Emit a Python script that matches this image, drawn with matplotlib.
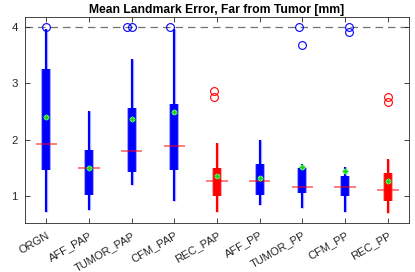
"""Compact boxplot: mean landmark error far from tumor."""
import numpy as np
import matplotlib
matplotlib.use('Agg')
import matplotlib.pyplot as plt

plt.rcParams['font.family'] = ['Liberation Sans', 'DejaVu Sans']

labels = ['ORGN', 'AFF_PAP', 'TUMOR_PAP', 'CFM_PAP', 'REC_PAP',
          'AFF_PP', 'TUMOR_PP', 'CFM_PP', 'REC_PP']
whisk_lo = [0.72, 0.76, 1.20, 0.92, 0.72, 0.84, 0.78, 0.72, 0.69]
q1       = [1.46, 1.01, 1.42, 1.46, 1.00, 1.01, 1.06, 1.00, 0.92]
median   = [1.93, 1.50, 1.80, 1.89, 1.27, 1.26, 1.16, 1.16, 1.11]
q3       = [3.26, 1.82, 2.56, 2.63, 1.50, 1.56, 1.50, 1.36, 1.41]
whisk_hi = [3.97, 2.51, 3.43, 3.97, 1.94, 2.00, 1.57, 1.52, 1.65]
means    = [2.40, 1.50, 2.37, 2.49, 1.35, 1.32, 1.51, 1.45, 1.26]
groups   = ['b', 'b', 'b', 'b', 'r', 'b', 'b', 'b', 'r']
# outliers: (box index, value, horizontal jitter)
out_idx  = [0, 2, 2, 3, 4, 4, 6, 6, 7, 7, 8, 8]
out_val  = [4.0, 4.0, 4.0, 4.0, 2.87, 2.76, 4.0, 3.68, 4.0, 3.92, 2.75, 2.67]
out_jit  = [0.0, -0.12, 0.0, -0.1, -0.06, -0.06, -0.09, 0.0, 0.1, 0.1, 0.0, 0.0]
ref_line = 4.0

colors = {'b': '#0000ff', 'r': '#ff0000'}
x = np.arange(1, len(labels) + 1)
cols = [colors[g] for g in groups]

fig = plt.figure(figsize=(4.15, 2.72), dpi=100)
ax = fig.add_axes([0.060, 0.180, 0.926, 0.758])

ax.axhline(ref_line, color='0.45', ls=(0, (6, 4)), lw=0.9, zorder=1)

ax.vlines(x, whisk_lo, whisk_hi, colors=cols, lw=1.5, zorder=2)
ax.vlines(x, whisk_lo, whisk_hi, colors=cols, lw=2.4, alpha=0.3, zorder=2)
ax.vlines(x, q1, q3, colors=cols, lw=7.2, alpha=0.35, zorder=3)
ax.vlines(x, q1, q3, colors=cols, lw=5.6, zorder=3)
ax.hlines(median, x - 0.25, x + 0.25, colors='#ff0000', lw=1.3, alpha=0.55, zorder=4)
ax.plot(x, means, ls='none', marker='o', ms=3.2, mfc='#22dd22', mec='#66ff66',
        mew=0.8, zorder=5)
ax.plot(x, means, ls='none', marker='+', ms=4, mec='#22cc22', mew=0.7, zorder=5)

for i, v, j in zip(out_idx, out_val, out_jit):
    ax.plot(x[i] + j, v, ls='none', marker='o', ms=5.6, mfc='none',
            mec=cols[i], mew=0.8, zorder=5)

ax.set_xlim(0.5, 9.5)
ax.set_ylim(0.52, 4.18)
ax.set_xticks(x)
ax.set_xticklabels(labels, rotation=30, ha='right', rotation_mode='anchor',
                   fontsize=8.0, color='0.15')
ax.set_yticks([1, 2, 3, 4])
ax.tick_params(axis='y', labelsize=8.2, labelcolor='0.15', pad=5)
ax.tick_params(axis='x', pad=5)
ax.tick_params(direction='in', top=True, right=True, length=3.5, width=0.6,
               color='0.15')
for s in ax.spines.values():
    s.set_color('0.15')
    s.set_linewidth(0.6)

ax.set_title('Mean Landmark Error, Far from Tumor [mm]', fontsize=8.7,
             fontweight='bold', pad=3)

fig.savefig('out.png', dpi=100)
